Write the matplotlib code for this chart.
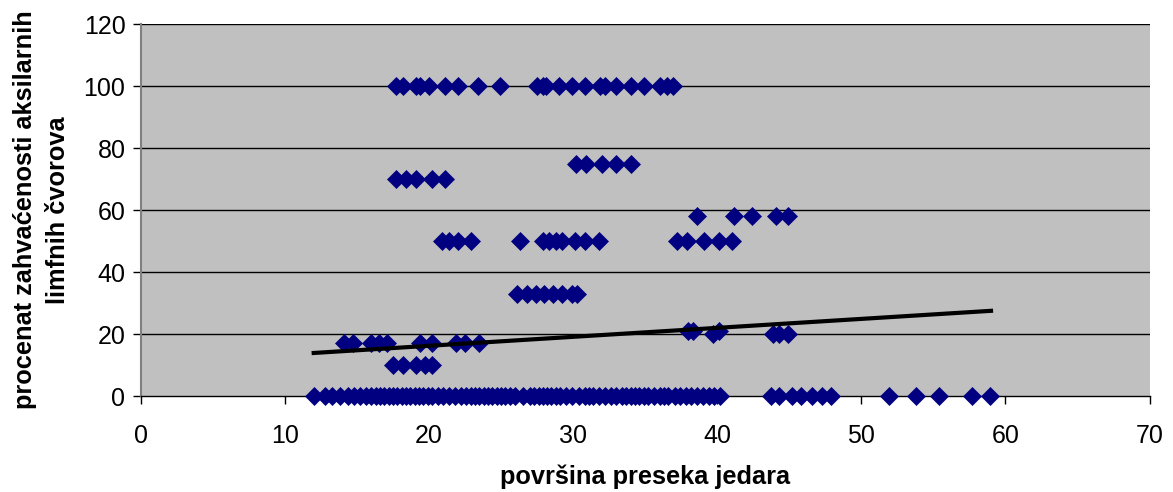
import matplotlib
matplotlib.use("Agg")
import matplotlib.pyplot as plt

plt.rcParams['font.family'] = ['Liberation Sans', 'DejaVu Sans']

# Nuclear cross-section area (x) vs. percentage of affected axillary lymph nodes (y)
x_100 = [17.7, 18.2, 19.1, 19.4, 20.0, 21.1, 22.0, 23.4, 24.9, 27.5, 27.9, 28.1,
         29.0, 29.9, 30.8, 31.9, 32.2, 33.0, 34.0, 34.9, 36.0, 36.5, 36.9]
x_75 = [30.2, 30.9, 32.0, 33.0, 34.0]
x_70 = [17.7, 18.4, 19.1, 20.2, 21.1]
x_58 = [38.6, 41.2, 42.4, 44.1, 44.9]
x_50 = [20.9, 21.4, 22.0, 22.9, 26.3, 27.9, 28.3, 28.8, 29.2, 30.1, 30.8, 31.8,
        37.2, 37.9, 39.1, 40.1, 41.0]
x_33 = [26.1, 26.8, 27.4, 28.0, 28.6, 29.2, 29.9, 30.3]
x_21 = [38.0, 38.3, 40.1]
x_20 = [39.7, 43.9, 44.3, 44.9]
x_17 = [14.1, 14.7, 16.0, 16.5, 17.1, 19.4, 20.2, 21.9, 22.5, 23.5]
x_10 = [17.5, 18.2, 19.1, 19.7, 20.2]
x_0 = [12.0, 12.8, 13.3, 13.8, 14.4, 14.8, 15.2, 15.6, 16.0, 16.3, 16.6, 16.9,
       17.2, 17.5, 17.8, 18.1, 18.4, 18.7, 19.0, 19.3, 19.6, 19.9, 20.2, 20.6,
       21.0, 21.4, 21.8, 22.2, 22.6, 22.9, 23.2, 23.5, 23.8, 24.1, 24.4, 24.7,
       25.0, 25.3, 25.6, 26.0, 26.5, 27.0, 27.3, 27.6, 27.9, 28.2, 28.5, 28.8,
       29.1, 29.5, 29.9, 30.4, 30.8, 31.1, 31.4, 31.8, 32.2, 32.6, 33.0, 33.4,
       33.7, 34.0, 34.3, 34.6, 34.9, 35.2, 35.6, 36.0, 36.3, 36.6, 37.1, 37.4,
       37.8, 38.2, 38.6, 39.0, 39.4, 39.8, 40.2, 43.7, 44.3, 45.2, 45.8, 46.6,
       47.3, 47.9, 51.9, 53.8, 55.4, 57.7, 58.9]

groups = [(x_100, 100), (x_75, 75), (x_70, 70), (x_58, 58), (x_50, 50),
          (x_33, 33), (x_21, 21), (x_20, 20), (x_17, 17), (x_10, 10), (x_0, 0)]

# Linear trend line endpoints
trend_x = [12.0, 59.0]
trend_y = [13.9, 27.5]

x_ticks = [0, 10, 20, 30, 40, 50, 60, 70]
y_ticks = [0, 20, 40, 60, 80, 100, 120]

fig = plt.figure(figsize=(11.73, 4.92), dpi=100)
ax = fig.add_axes([0.120, 0.195, 0.860, 0.756])
ax.set_facecolor('#C0C0C0')
ax.set_xlim(0, 70)
ax.set_ylim(0, 120)

for y in y_ticks[1:]:
    ax.axhline(y, color='black', lw=1.0, zorder=1)

for xs, yv in groups:
    ax.plot(xs, [yv] * len(xs), linestyle='none', marker='D', markersize=9.0,
            markerfacecolor='#000080', markeredgecolor='#000080',
            markeredgewidth=0.5, zorder=3, clip_on=False)

ax.plot(trend_x, trend_y, color='black', lw=3, zorder=4)

ax.set_xticks(x_ticks)
ax.set_yticks(y_ticks)
ax.tick_params(axis='both', labelsize=18, direction='out', length=6,
               width=1, color='black')
ax.tick_params(axis='x', pad=14)
ax.tick_params(axis='y', pad=5)

for side in ['top', 'right']:
    ax.spines[side].set_visible(False)
ax.spines['left'].set_color('#808080')
ax.spines['left'].set_linewidth(1.5)
ax.spines['bottom'].set_color('black')
ax.spines['bottom'].set_linewidth(1.0)

ax.set_xlabel('površina preseka jedara', fontsize=18.3, fontweight='bold', labelpad=12)
ax.set_ylabel('procenat zahvaćenosti aksilarnih\nlimfnih čvorova', fontsize=18.3,
              fontweight='bold', labelpad=10, linespacing=1.45)

fig.savefig('out.png', dpi=100)
